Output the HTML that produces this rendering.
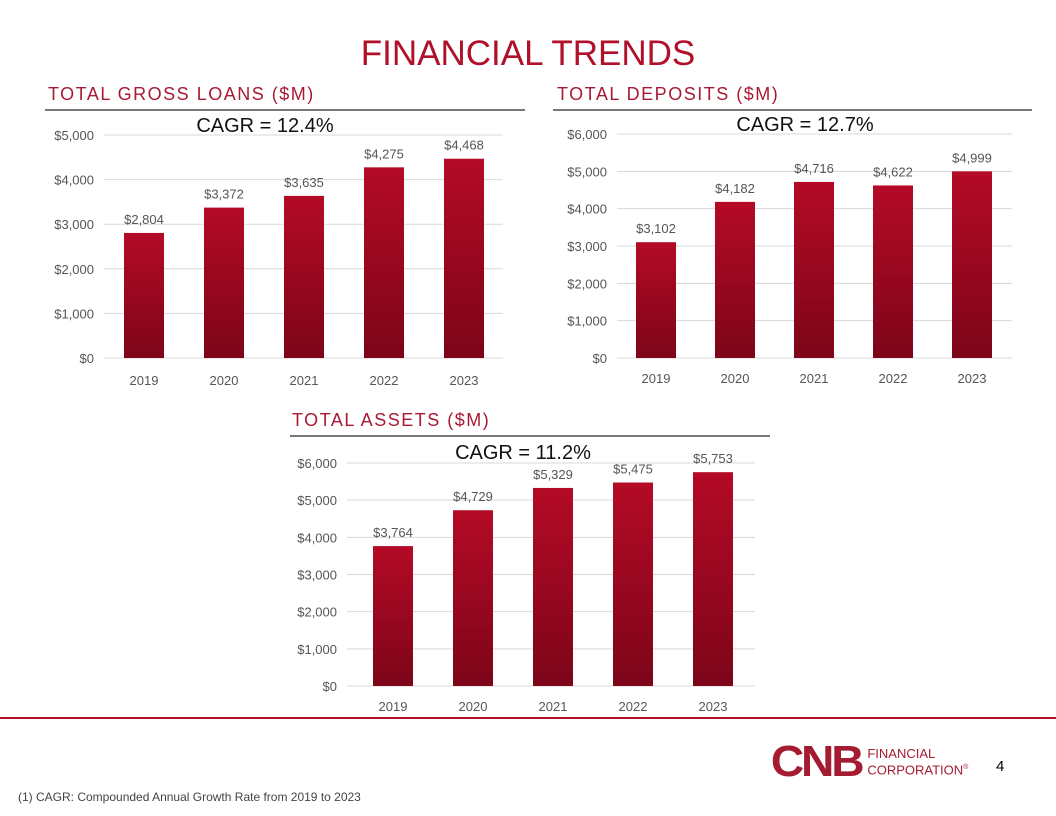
<!DOCTYPE html>
<html><head><meta charset="utf-8"><style>
body{margin:0;width:1056px;height:816px;background:#fff;position:relative;overflow:hidden;font-family:"Liberation Sans",sans-serif}
.abs{position:absolute}
.sec{position:absolute;color:#a81a33;font-size:18px;letter-spacing:1.5px;white-space:nowrap}
.rule{position:absolute;height:2px;background:#777}
</style></head><body>
<div class="abs" style="left:0;width:1056px;top:34px;text-align:center;font-size:35px;color:#b0102a">FINANCIAL TRENDS</div>
<div class="sec" style="left:48px;top:84px">TOTAL GROSS LOANS ($M)</div>
<div class="rule" style="left:45px;width:480px;top:109px"></div>
<div class="sec" style="left:557px;top:84px">TOTAL DEPOSITS ($M)</div>
<div class="rule" style="left:553px;width:479px;top:109px"></div>
<div class="sec" style="left:292px;top:410px">TOTAL ASSETS ($M)</div>
<div class="rule" style="left:290px;width:480px;top:435px"></div>
<svg class="abs" style="left:0;top:0" width="1056" height="816" id="svg">
<defs><linearGradient id="g" x1="0" y1="0" x2="0" y2="1"><stop offset="0" stop-color="#b40a26"/><stop offset="1" stop-color="#7d0519"/></linearGradient></defs>
</svg>
<div class="abs" style="left:0;width:1056px;top:717px;height:2px;background:#b0102a"></div>
<div class="abs" style="left:773px;top:740px;display:flex;align-items:center">
<span style="font-weight:bold;font-size:44px;line-height:44px;color:#a51c32;letter-spacing:-3px;display:inline-block;transform:scaleX(1.05)">CNB</span>
<span style="font-size:13px;line-height:14px;color:#a51c32;margin-left:8px">FINANCIAL<br>CORPORATION<sup style="font-size:7px">®</sup></span></div>
<div class="abs" style="left:996px;top:758px;font-size:15px">4</div>
<div class="abs" style="left:18px;top:790px;font-size:12px;color:#444">(1) CAGR: Compounded Annual Growth Rate from 2019 to 2023</div>
<script>
const years=["2019","2020","2021","2022","2023"];
const loans=[2804,3372,3635,4275,4468];
const deposits=[3102,4182,4716,4622,4999];
const assets=[3764,4729,5329,5475,5753];
const loansTicks=[0,1000,2000,3000,4000,5000];
const depTicks=[0,1000,2000,3000,4000,5000,6000];
const assetTicks=[0,1000,2000,3000,4000,5000,6000];
const cagrs=["CAGR = 12.4%","CAGR = 12.7%","CAGR = 11.2%"];
const svg=document.getElementById('svg');
const NS='http://www.w3.org/2000/svg';
function mk(t,a,txt){const e=document.createElementNS(NS,t);for(const k in a)e.setAttribute(k,a[k]);if(txt!=null)e.textContent=txt;svg.appendChild(e);return e;}
function fmt(v){return '$'+v.toLocaleString('en-US');}
function chart(id,vals,ticks,max,x0,x1,yTop,yBot,c0,step,cagr,cagrX,cagrY,yearY){
 const y=v=>yBot-(v/max)*(yBot-yTop);
 ticks.forEach(t=>{
  const l=mk('line',{x1:x0,x2:x1,y1:y(t),y2:y(t),stroke:'#d9d9d9','stroke-width':1});
  
  const tx=mk('text',{x:x0-10,y:y(t)+5,'text-anchor':'end','font-size':13,fill:'#555','font-family':'Liberation Sans'},fmt(t));
  
 });
 vals.forEach((v,i)=>{
  const cx=c0+i*step;
  const r=mk('rect',{x:cx-20,y:y(v),width:40,height:yBot-y(v),fill:'url(#g)'});
  
  const lb=mk('text',{x:cx,y:y(v)-9,'text-anchor':'middle','font-size':13,fill:'#555','font-family':'Liberation Sans'},fmt(v));
  
  const yl=mk('text',{x:cx,y:yearY,'text-anchor':'middle','font-size':13,fill:'#555','font-family':'Liberation Sans'},years[i]);
  
 });
 const c=mk('text',{x:cagrX,y:cagrY,'text-anchor':'middle','font-size':20,fill:'#111','font-family':'Liberation Sans'},cagr);
 
}
chart('loans',loans,loansTicks,5000,104,503,135,358,144,80,cagrs[0],265,132,385);
chart('deposits',deposits,depTicks,6000,617,1012,134,358,656,79,cagrs[1],805,131,383);
chart('assets',assets,assetTicks,6000,347,755,463,686,393,80,cagrs[2],523,459,711);
</script>
</body></html>
